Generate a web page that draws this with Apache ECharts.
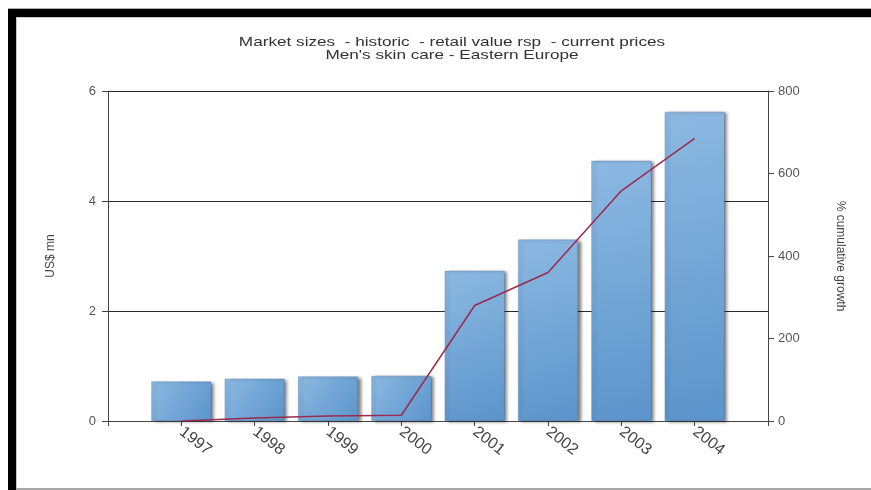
<!DOCTYPE html>
<html>
<head>
<meta charset="utf-8">
<title>Men's skin care - Eastern Europe</title>
<script src="https://cdn.jsdelivr.net/npm/echarts@6/dist/echarts.min.js"></script>
<style>
  html, body { margin: 0; padding: 0; background: #ffffff; }
  #chart { width: 871px; height: 490px; }
</style>
</head>
<body>
<div id="chart"></div>
<script>
// Market size (US$ mn) and cumulative growth since 1997 (%)
const categories = ['1997', '1998', '1999', '2000', '2001', '2002', '2003', '2004'];
const marketSize = [0.72, 0.77, 0.81, 0.82, 2.73, 3.30, 4.73, 5.62];
const cumulativeGrowth = [0, 7, 12, 14, 280, 360, 558, 685];
const leftTicks = { min: 0, max: 6, interval: 2 };
const rightTicks = { min: 0, max: 800, interval: 200 };

const titleLines = [
  'Market sizes  - historic  - retail value rsp  - current prices',
  "Men's skin care - Eastern Europe"
];

// half a slot of empty space on each side of the categories
const axisSlots = [''].concat(categories, ['']);
const pad = arr => [null].concat(arr, [null]);

const FONT = '"Liberation Sans", Arial, sans-serif';
const chart = echarts.init(document.getElementById('chart'), null, { renderer: 'canvas' });

const barGradient = new echarts.graphic.LinearGradient(0, 0, 1, 1, [
  { offset: 0, color: '#8cb9e2' },
  { offset: 1, color: '#5b94cb' }
]);

chart.setOption({
  backgroundColor: '#ffffff',
  animation: false,
  grid: { left: 108, right: 103, top: 91, bottom: 69 },
  xAxis: {
    type: 'category',
    data: axisSlots,
    boundaryGap: false,
    axisLine: { lineStyle: { color: '#444', width: 1 } },
    axisTick: { show: true, length: 5, interval: 0, lineStyle: { color: '#444' } },
    axisLabel: {
      interval: 0,
      rotate: -38,
      margin: 9,
      color: '#444',
      fontFamily: FONT,
      fontSize: 16
    },
    splitLine: { show: false }
  },
  yAxis: [
    {
      type: 'value',
      min: leftTicks.min,
      max: leftTicks.max,
      interval: leftTicks.interval,
      name: 'US$ mn',
      nameLocation: 'middle',
      nameRotate: 90,
      nameGap: 51,
      nameTextStyle: { color: '#444', fontFamily: FONT, fontSize: 12 },
      axisLine: { show: true, lineStyle: { color: '#444', width: 1 } },
      axisTick: { show: true, length: 6, lineStyle: { color: '#444' } },
      axisLabel: { color: '#555', fontFamily: FONT, fontSize: 13, margin: 12 },
      splitLine: { show: true, lineStyle: { color: '#2a2a2a', width: 1.2 } }
    },
    {
      type: 'value',
      min: rightTicks.min,
      max: rightTicks.max,
      interval: rightTicks.interval,
      name: '% cumulative growth',
      nameLocation: 'middle',
      nameRotate: -90,
      nameGap: 66,
      nameTextStyle: { color: '#444', fontFamily: FONT, fontSize: 12 },
      axisLine: { show: true, lineStyle: { color: '#444', width: 1 } },
      axisTick: { show: true, length: 6, lineStyle: { color: '#444' } },
      axisLabel: { color: '#555', fontFamily: FONT, fontSize: 13, margin: 10 },
      splitLine: { show: false }
    }
  ],
  series: [
    {
      name: 'US$ mn',
      type: 'bar',
      yAxisIndex: 0,
      barWidth: 60,
      data: pad(marketSize),
      itemStyle: {
        color: barGradient,
        borderColor: 'rgba(70,110,160,0.6)',
        borderWidth: 0.5,
        shadowColor: 'rgba(0,0,0,0.5)',
        shadowBlur: 3,
        shadowOffsetX: 3,
        shadowOffsetY: 1
      }
    },
    {
      name: '% cumulative growth',
      type: 'line',
      yAxisIndex: 1,
      data: pad(cumulativeGrowth),
      symbol: 'none',
      connectNulls: false,
      lineStyle: { color: '#9a2a4e', width: 1.5 },
      z: 5
    }
  ],
  graphic: [
    // page frame
    { type: 'rect', shape: { x: 8, y: 8, width: 863, height: 1 }, style: { fill: '#b0b0b0' }, silent: true },
    { type: 'rect', shape: { x: 8, y: 9, width: 863, height: 8 }, style: { fill: '#000000' }, silent: true },
    { type: 'rect', shape: { x: 8, y: 9, width: 8, height: 481 }, style: { fill: '#000000' }, silent: true },
    { type: 'rect', shape: { x: 16, y: 17, width: 855, height: 1 }, style: { fill: '#c8c8c8' }, silent: true },
    { type: 'rect', shape: { x: 16, y: 17, width: 1, height: 473 }, style: { fill: '#c8c8c8' }, silent: true },
    { type: 'rect', shape: { x: 16, y: 488, width: 855, height: 2 }, style: { fill: '#a8a8a8' }, silent: true },
    // two-line title, set in a wide face
    {
      type: 'text', x: 452, y: 42, scaleX: 1.32,
      style: { text: titleLines[0], fill: '#333', font: '13px ' + FONT, align: 'center', verticalAlign: 'middle' }
    },
    {
      type: 'text', x: 452, y: 55, scaleX: 1.32,
      style: { text: titleLines[1], fill: '#333', font: '13px ' + FONT, align: 'center', verticalAlign: 'middle' }
    }
  ]
});
</script>
</body>
</html>
